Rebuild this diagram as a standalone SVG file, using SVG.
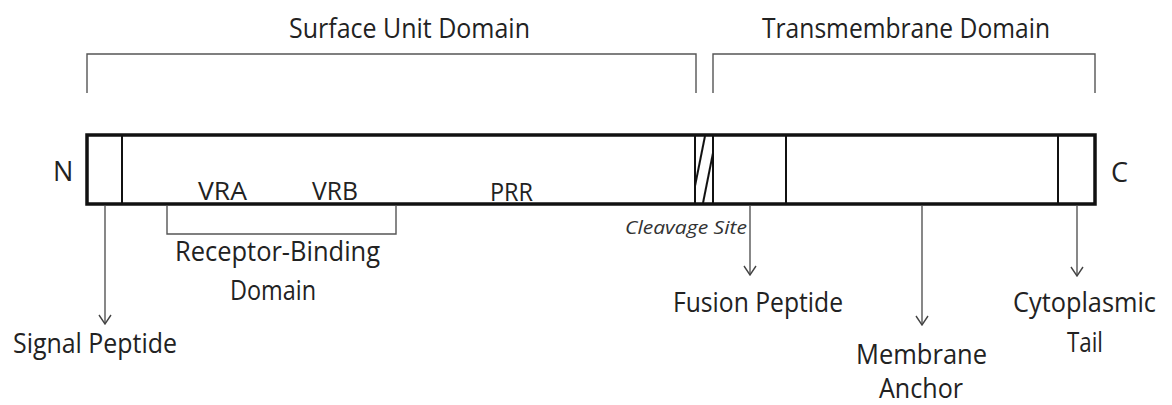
<svg xmlns="http://www.w3.org/2000/svg" width="1172" height="405" viewBox="0 0 1172 405">
  <defs>
    <style>
      text { font-family: "Open Sans", "Noto Sans", sans-serif; fill: #222; }
      .lbl { font-size: 27px; }
      .small { font-size: 25px; }
      .ital { font-size: 18px; font-style: italic; fill: #333; }
      .thin { stroke: #555; stroke-width: 1.4; fill: none; }
      .div { stroke: #111; stroke-width: 2; fill: none; }
    </style>
    <marker id="vhead" viewBox="0 0 12 14" refX="11" refY="7" markerWidth="12" markerHeight="14" markerUnits="userSpaceOnUse" orient="auto">
      <path d="M2,1 L11,7 L2,13" fill="none" stroke="#444" stroke-width="1.4"/>
    </marker>
  </defs>
  <rect width="1172" height="405" fill="#fff"/>

  <!-- domain brackets and titles -->
  <g id="surface-unit">
    <path class="thin" d="M87,93 V54 H696 V93"/>
    <text class="lbl" x="289" y="38" textLength="241" lengthAdjust="spacingAndGlyphs">Surface Unit Domain</text>
  </g>
  <g id="transmembrane">
    <path class="thin" d="M713,93 V54 H1095 V93"/>
    <text class="lbl" x="762" y="38" textLength="288" lengthAdjust="spacingAndGlyphs">Transmembrane Domain</text>
  </g>

  <!-- protein bar -->
  <g id="protein">
    <rect x="87" y="135" width="1008" height="69" fill="#fff" stroke="#111" stroke-width="3.5"/>
    <line class="div" x1="122" y1="135" x2="122" y2="204"/>
    <line class="div" x1="695" y1="135" x2="695" y2="204"/>
    <line class="div" x1="713" y1="135" x2="713" y2="204"/>
    <line class="div" x1="786" y1="135" x2="786" y2="204"/>
    <line class="div" x1="1058" y1="135" x2="1058" y2="204"/>
    <!-- hatching of the cleavage site -->
    <line class="div" x1="695" y1="186" x2="705" y2="136"/>
    <line class="div" x1="703" y1="203" x2="713" y2="153"/>
    <text class="lbl" x="53" y="181">N</text>
    <text class="lbl" x="1111" y="182">C</text>
    <text class="small" x="198" y="200" textLength="49" lengthAdjust="spacingAndGlyphs">VRA</text>
    <text class="small" x="312" y="200" textLength="46" lengthAdjust="spacingAndGlyphs">VRB</text>
    <text class="small" x="490" y="201" textLength="43" lengthAdjust="spacingAndGlyphs">PRR</text>
  </g>

  <!-- connectors -->
  <g id="connectors">
    <line class="thin" x1="105" y1="206" x2="105" y2="324" marker-end="url(#vhead)"/>
    <path class="thin" d="M167,206 V234 H396 V206"/>
    <line class="thin" x1="750" y1="206" x2="750" y2="275" marker-end="url(#vhead)"/>
    <line class="thin" x1="922" y1="206" x2="922" y2="325" marker-end="url(#vhead)"/>
    <line class="thin" x1="1077" y1="206" x2="1077" y2="276" marker-end="url(#vhead)"/>
  </g>

  <g id="signal-peptide">
    <text class="lbl" x="13" y="353" textLength="164" lengthAdjust="spacingAndGlyphs">Signal Peptide</text>
  </g>
  <g id="receptor-binding">
    <text class="lbl" x="175" y="261" textLength="205" lengthAdjust="spacingAndGlyphs">Receptor-Binding</text>
    <text class="lbl" x="230" y="300" textLength="86" lengthAdjust="spacingAndGlyphs">Domain</text>
  </g>
  <g id="cleavage-site">
    <text class="ital" x="625" y="234" textLength="122" lengthAdjust="spacingAndGlyphs">Cleavage Site</text>
  </g>
  <g id="fusion-peptide">
    <text class="lbl" x="673" y="312" textLength="170" lengthAdjust="spacingAndGlyphs">Fusion Peptide</text>
  </g>
  <g id="membrane-anchor">
    <text class="lbl" x="856" y="364" textLength="131" lengthAdjust="spacingAndGlyphs">Membrane</text>
    <text class="lbl" x="879" y="398" textLength="84" lengthAdjust="spacingAndGlyphs">Anchor</text>
  </g>
  <g id="cytoplasmic-tail">
    <text class="lbl" x="1013" y="312" textLength="143" lengthAdjust="spacingAndGlyphs">Cytoplasmic</text>
    <text class="lbl" x="1067" y="352" textLength="36" lengthAdjust="spacingAndGlyphs">Tail</text>
  </g>
</svg>
